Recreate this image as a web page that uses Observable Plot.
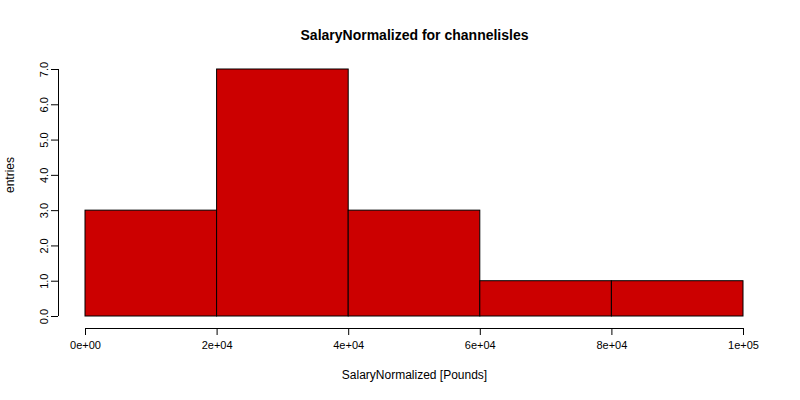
<!DOCTYPE html>
<html>
<head>
<meta charset="utf-8">
<script src="https://cdn.jsdelivr.net/npm/d3@7"></script>
<script src="https://cdn.jsdelivr.net/npm/@observablehq/plot@0.6"></script>
<style>
  body { margin: 0; background: white; }
  svg { font-family: "Liberation Sans", Arial, sans-serif; }
</style>
</head>
<body>
<div id="chart"></div>
<script>
// bins of SalaryNormalized (Pounds)
const binStarts = [0, 20000, 40000, 60000, 80000]
const binEnds = [20000, 40000, 60000, 80000, 100000]
const counts = [3, 7, 3, 1, 1]
const xTicks = [0, 20000, 40000, 60000, 80000, 100000]
const yTicks = [0, 1, 2, 3, 4, 5, 6, 7]

const bins = counts.map((c, i) => ({x1: binStarts[i], x2: binEnds[i], n: c}))

// R style scientific labels: 2e+04
const sci = d => {
  if (d === 0) return '0e+00'
  const e = Math.floor(Math.log10(d))
  const m = Math.round(d / 10 ** e)
  return `${m}e+${String(e).padStart(2, '0')}`
}

const chart = Plot.plot({
  width: 800,
  height: 400,
  marginLeft: 85,
  marginRight: 57,
  marginTop: 69,
  marginBottom: 84,
  style: {fontSize: '12px', fontFamily: '"Liberation Sans", Arial, sans-serif', color: 'black'},
  x: {domain: [0, 100000]},
  y: {domain: [0, 7]},
  marks: [
    Plot.rectY(bins, {x1: 'x1', x2: 'x2', y: 'n', fill: '#CC0000', stroke: 'black', strokeWidth: 1}),
    Plot.axisX({ticks: xTicks, tickFormat: sci, dy: 12, tickSize: 7, tickPadding: 6, label: null, fontSize: 11}),
    Plot.ruleY([0], {x1: 0, x2: 100000, dy: 12, stroke: 'black'}),
    Plot.axisY({ticks: yTicks, dx: -27, tickSize: 7, tickPadding: 4, tickRotate: -90, label: null, fontSize: 11}),
    Plot.ruleX([0], {y1: 0, y2: 7, dx: -27, stroke: 'black'}),
    Plot.text(['SalaryNormalized for channelisles'], {frameAnchor: 'top', dy: -39, fontWeight: 'bold', fontSize: 14}),
    Plot.text(['SalaryNormalized [Pounds]'], {frameAnchor: 'bottom', dy: 62, fontSize: 12}),
    Plot.text(['entries'], {frameAnchor: 'left', dx: -75, rotate: -90, fontSize: 12})
  ]
})

d3.select('#chart').append(() => chart)
</script>
</body>
</html>
